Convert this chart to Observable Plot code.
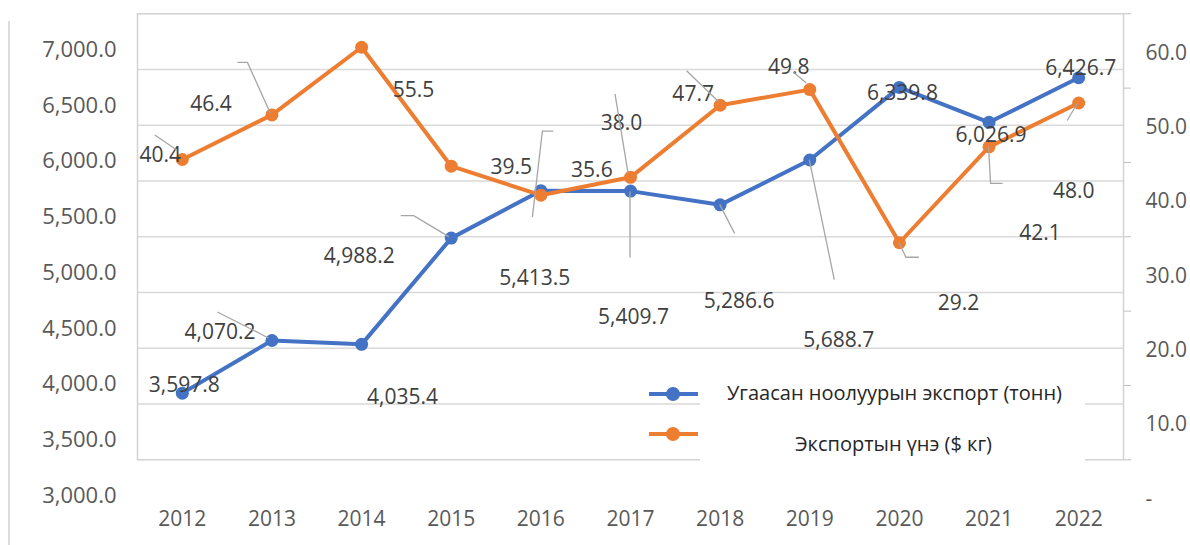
<!DOCTYPE html>
<html>
<head>
<meta charset="utf-8">
<script src="https://cdn.jsdelivr.net/npm/d3@7"></script>
<script src="https://cdn.jsdelivr.net/npm/@observablehq/plot@0.6"></script>
<style>
  body { margin: 0; background: #fff; font-family: "Open Sans", sans-serif; }
  #wrap { position: relative; width: 1190px; height: 545px; overflow: hidden; }
  #edge { position: absolute; left: 8px; top: 21px; width: 1.5px; height: 524px; background: #dcdcdc; }
  #wrap svg { position: absolute; left: 0; top: 0; }
</style>
</head>
<body>
<div id="wrap"><div id="edge"></div></div>
<script>
// ---------- data ----------
const years = [2012, 2013, 2014, 2015, 2016, 2017, 2018, 2019, 2020, 2021, 2022];
const exportTonnes = [3597.8, 4070.2, 4035.4, 4988.2, 5413.5, 5409.7, 5286.6, 5688.7, 6339.8, 6026.9, 6426.7];
const priceUsdPerKg = [40.4, 46.4, 55.5, 39.5, 35.6, 38.0, 47.7, 49.8, 29.2, 42.1, 48.0];
const leftTicks = [3000, 3500, 4000, 4500, 5000, 5500, 6000, 6500, 7000];
const rightTicks = [0, 10, 20, 30, 40, 50, 60];
const seriesNames = ["Угаасан ноолуурын экспорт (тонн)", "Экспортын үнэ ($ кг)"];

// ---------- layout (label offsets in px, relative to each point) ----------
const tonnesLabelOffsets = [[2,-8],[-52,-8],[41,53],[-92,18],[-6,88],[3,126],[19,96],[29,180],[3,6],[2,13],[2,-9]];
const priceLabelOffsets  = [[-22,-4],[-61,-11],[52,43],[60,1],[51,-25],[-9,-54],[-27,-11],[-21,-22],[59,61],[51,86],[-5,88]];
const tonnesLeaders = {1:[[-54,-28],[-3,-2]], 3:[[-50,-22],[-37,-22],[-2,-1]], 4:[[13,-59],[2,-59],[-8,27]],
                       5:[[0,1],[0,67]], 6:[[0,0],[15,29]], 7:[[0,0],[25,120]]};
const priceLeaders  = {0:[[-27,-24],[-5,-9]], 1:[[-34,-52],[-24,-52],[-1,-1]], 5:[[-15,-83],[-2,-4]],
                       6:[[-33,-34],[-1,-3]], 7:[[-16,-17],[-3,-6]], 8:[[0,0],[7,15],[20,15]],
                       9:[[0,0],[2,37],[14,37]], 10:[[-11,18],[-1,1]]};

const blue = "#4472C4", orange = "#ED7D31";
const fmtT = d3.format(",.1f");
const leftMin = leftTicks[0], leftMax = leftTicks[leftTicks.length - 1];
const rightMin = rightTicks[0], rightMax = rightTicks[rightTicks.length - 1];
const toLeft = v => leftMin + (v - rightMin) * (leftMax - leftMin) / (rightMax - rightMin);

const rows = years.map((year, i) => ({year, tonnes: exportTonnes[i], price: priceUsdPerKg[i], i}));

const labelMarks = [];
rows.forEach((d, i) => {
  labelMarks.push(Plot.text([d], {x: "year", y: "tonnes", text: r => fmtT(r.tonnes),
    dx: tonnesLabelOffsets[i][0], dy: tonnesLabelOffsets[i][1], fontSize: 21, fill: "#404040"}));
  labelMarks.push(Plot.text([d], {x: "year", y: r => toLeft(r.price), text: r => r.price.toFixed(1),
    dx: priceLabelOffsets[i][0], dy: priceLabelOffsets[i][1], fontSize: 21, fill: "#404040"}));
});

const plot = Plot.plot({
  width: 1190, height: 545,
  marginTop: 13.3, marginBottom: 85.7, marginLeft: 137, marginRight: 67,
  style: {fontFamily: '"Open Sans", sans-serif', background: "transparent", overflow: "visible"},
  x: {type: "linear", domain: [years[0] - 0.5, years[years.length - 1] + 0.5], axis: null},
  y: {domain: [leftMin, leftMax], axis: null},
  marks: [
    Plot.ruleY(leftTicks.slice(1, -1), {stroke: "#d9d9d9", strokeWidth: 1.5}),
    Plot.frame({stroke: "#d2d2d2", strokeWidth: 1.5}),
    Plot.axisY(rightTicks.map(toLeft), {anchor: "right", tickSize: 7, tickFormat: () => "", stroke: "#bfbfbf", label: null}),
    Plot.text(leftTicks, {y: d => d, frameAnchor: "left", dx: -21, dy: 36, textAnchor: "end",
      text: d => fmtT(d), fontSize: 22, fill: "#595959"}),
    Plot.text(rightTicks, {y: d => toLeft(d), frameAnchor: "right", dx: 22, dy: 39, textAnchor: "start",
      text: d => d === 0 ? "-" : d.toFixed(1), fontSize: 21, fill: "#595959"}),
    Plot.text(years, {x: d => d, frameAnchor: "bottom", dy: 66, text: d => String(d), fontSize: 21, fill: "#595959"}),
    Plot.line(rows, {x: "year", y: "tonnes", stroke: blue, strokeWidth: 4}),
    Plot.dot(rows, {x: "year", y: "tonnes", fill: blue, r: 6.5}),
    Plot.line(rows, {x: "year", y: r => toLeft(r.price), stroke: orange, strokeWidth: 4}),
    Plot.dot(rows, {x: "year", y: r => toLeft(r.price), fill: orange, r: 6.5}),
    ...labelMarks
  ]
});

document.getElementById("wrap").appendChild(plot);

// leader lines, positioned through the plot's own scales
const sx = plot.scale("x"), sy = plot.scale("y");
const svg = d3.select(plot);
const g = svg.append("g").attr("fill", "none").attr("stroke", "#a6a6a6").attr("stroke-width", 1.3);
function addLeaders(leaders, valueOf) {
  for (const [k, pts] of Object.entries(leaders)) {
    const r = rows[+k];
    const px = sx.apply(r.year), py = sy.apply(valueOf(r));
    g.append("path").attr("d", d3.line()(pts.map(([dx, dy]) => [px + dx, py + dy])));
  }
}
addLeaders(tonnesLeaders, r => r.tonnes);
addLeaders(priceLeaders, r => toLeft(r.price));

// legend (white box over the lower-right plot area)
const ov = d3.select("#wrap").append("svg").attr("width", 1190).attr("height", 545)
  .style("font-family", '"Open Sans", sans-serif');
ov.append("rect").attr("x", 700).attr("y", 352).attr("width", 385).attr("height", 128).attr("fill", "#fff");
const legendItems = [
  {name: seriesNames[0], color: blue, sy: 394, tx: 727, ty: 393},
  {name: seriesNames[1], color: orange, sy: 434, tx: 795, ty: 444}
];
for (const it of legendItems) {
  ov.append("line").attr("x1", 649).attr("x2", 698).attr("y1", it.sy).attr("y2", it.sy)
    .attr("stroke", it.color).attr("stroke-width", 4);
  ov.append("circle").attr("cx", 673).attr("cy", it.sy).attr("r", 7).attr("fill", it.color);
  ov.append("text").attr("x", it.tx).attr("y", it.ty).attr("dy", "0.35em")
    .attr("font-size", 20).attr("fill", "#262626").text(it.name);
}
</script>
</body>
</html>
